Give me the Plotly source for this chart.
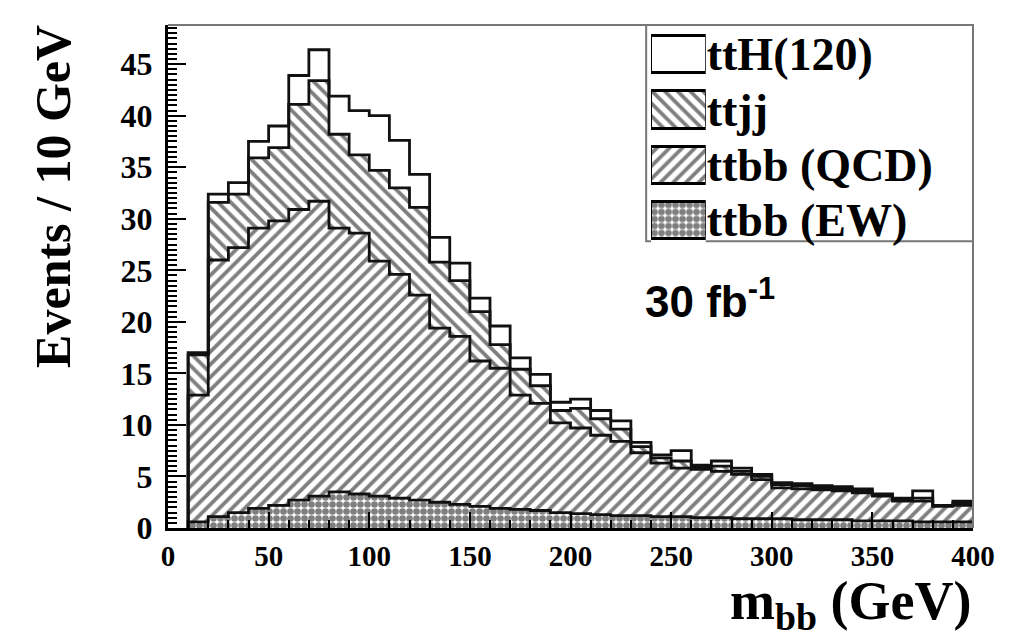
import numpy as np
import plotly.graph_objects as go

# bins of 10 GeV from 10 to 400 GeV
bin_edges = list(range(10, 410, 10))
bin_centers = [e + 5 for e in bin_edges[:-1]]

# events per bin for each component (stacked bottom -> top)
ttbb_ew = [0.6, 1.1, 1.5, 1.9, 2.2, 2.7, 3.1, 3.5, 3.3, 3.1,
           2.9, 2.7, 2.5, 2.3, 2.1, 1.9, 1.8, 1.7, 1.5, 1.4,
           1.3, 1.2, 1.2, 1.1, 1.1, 1.0, 1.0, 0.9, 0.9, 0.9,
           0.8, 0.8, 0.8, 0.7, 0.7, 0.7, 0.6, 0.6, 0.6]
ttbb_qcd = [12.3, 24.9, 25.7, 27.2, 27.6, 28.2, 28.6, 25.6, 25.3, 22.8,
            21.7, 19.9, 16.9, 16.3, 14.1, 13.6, 11.1, 10.4, 8.7, 8.3,
            7.7, 7.2, 6.1, 5.2, 4.7, 4.7, 4.5, 4.3, 3.8, 3.0,
            3.0, 2.9, 2.8, 2.7, 2.4, 1.9, 2.0, 1.5, 1.6]
ttjj = [3.9, 5.6, 5.2, 6.8, 7.1, 10.2, 11.7, 9.1, 7.6, 8.8,
        8.4, 8.5, 6.4, 5.4, 4.8, 2.3, 2.5, 1.7, 1.2, 1.9,
        1.6, 1.2, 0.6, 0.5, 0.7, 0.2, 0.5, 0.3, 0.3, 0.3,
        0.3, 0.2, 0.2, 0.2, 0.1, 0.2, 0.3, 0.1, 0.2]
tth = [0.2, 0.8, 1.1, 1.6, 2.1, 2.8, 3.0, 3.7, 4.3, 5.3,
       4.6, 3.2, 2.4, 1.7, 1.3, 1.8, 1.1, 1.1, 0.8, 0.9,
       0.8, 0.8, 0.4, 0.3, 1.0, 0.2, 0.5, 0.3, 0.2, 0.2,
       0.2, 0.2, 0.2, 0.2, 0.1, 0.1, 0.7, 0.0, 0.2]

legend_labels = ["ttH(120)", "ttjj", "ttbb (QCD)", "ttbb (EW)"]
x_ticks = [0, 50, 100, 150, 200, 250, 300, 350, 400]
y_ticks = [0, 5, 10, 15, 20, 25, 30, 35, 40, 45]

SERIF = "Liberation Serif"
# (values, pattern shape, pattern size, solidity)
layers = [
    (ttbb_ew, ".", 7, 0.7),
    (ttbb_qcd, "/", 9, 0.42),
    (ttjj, "\\", 9, 0.42),
    (tth, "", 8, 0.3),
]

fig = go.Figure()

# ── filled stacked bars (no outlines) ──────────────────
for vals, shape, size, sol in layers:
    fig.add_trace(go.Bar(
        x=bin_centers, y=vals, width=10,
        marker=dict(color="white", line=dict(width=0),
                    pattern=dict(shape=shape, fgcolor="black", bgcolor="white",
                                 size=size, solidity=sol, fillmode="overlay")),
        showlegend=False,
    ))

# ── step outlines of each cumulative level ──────────────
cum = np.zeros(len(bin_centers))
for vals, _, _, _ in layers:
    cum = cum + np.array(vals)
    ys = [0] + list(cum) + [cum[-1]]
    xs = [bin_edges[0]] + bin_edges
    fig.add_trace(go.Scatter(
        x=xs, y=ys, mode="lines", line=dict(color="#111", width=2.8, shape="hv"),
        showlegend=False, hoverinfo="skip",
    ))

# ── legend swatches on an extra small subplot ───────────
fig.add_trace(go.Bar(
    x=[1] * 4, y=legend_labels, orientation="h", width=0.68,
    xaxis="x2", yaxis="y2",
    marker=dict(color="white", line=dict(color="black", width=2.5),
                pattern=dict(shape=[l[1] for l in layers][::-1], fgcolor="black",
                             bgcolor="white", size=[l[2] for l in layers][::-1],
                             solidity=[l[3] for l in layers][::-1], fillmode="overlay")),
    showlegend=False,
))

fig.update_layout(
    width=1011, height=638,
    margin=dict(l=160, r=46, t=17, b=118),
    paper_bgcolor="white", plot_bgcolor="white",
    barmode="stack", bargap=0,
    font=dict(family=SERIF, color="black"),
    xaxis=dict(
        range=[0, 400], tickvals=x_ticks, ticks="inside", ticklen=16, tickwidth=2,
        tickcolor="black", showline=True, linewidth=3, linecolor="black",
        showgrid=False, zeroline=False, ticklabelstandoff=0,
        tickfont=dict(family=SERIF, size=29, weight="bold"),
        minor=dict(dtick=10, ticks="inside", ticklen=8, tickwidth=1.5, tickcolor="black"),
    ),
    yaxis=dict(
        range=[0, 48.8], tickvals=y_ticks, ticks="inside", ticklen=18, tickwidth=2,
        tickcolor="black", showline=True, linewidth=3, linecolor="black",
        showgrid=False, zeroline=False, ticklabelstandoff=6,
        tickfont=dict(family=SERIF, size=32, weight="bold"),
        minor=dict(dtick=0.5, ticks="inside", ticklen=9, tickwidth=1.5, tickcolor="black"),
    ),
    xaxis2=dict(domain=[0.600, 0.668], anchor="y2", range=[0, 1], visible=False),
    yaxis2=dict(
        domain=[0.557, 0.997], anchor="x2", side="right", type="category",
        categoryorder="array", categoryarray=legend_labels[::-1],
        range=[-0.5, 3.5], showline=False, showgrid=False, ticks="",
        ticklabelstandoff=0, tickfont=dict(family=SERIF, size=46, weight="bold"),
    ),
    shapes=[
        # grey top/right frame
        dict(type="line", xref="paper", yref="paper", x0=0, x1=1, y0=1, y1=1,
             line=dict(color="#777", width=2)),
        dict(type="line", xref="paper", yref="paper", x0=1, x1=1, y0=0, y1=1,
             line=dict(color="#777", width=2)),
        # legend box
        dict(type="rect", xref="paper", yref="paper", x0=0.594, x1=1, y0=0.57, y1=1,
             line=dict(color="#777", width=2), fillcolor="rgba(0,0,0,0)", layer="below"),
    ],
    annotations=[
        dict(text="Events / 10 GeV", xref="paper", yref="paper", x=-0.143, y=0.66,
             textangle=-90, showarrow=False, xanchor="center", yanchor="middle",
             font=dict(family=SERIF, size=50, weight="bold")),
        dict(text="m<sub>bb</sub> (GeV)", xref="paper", yref="paper", x=1.0, y=-0.152,
             showarrow=False, xanchor="right", yanchor="middle",
             font=dict(family=SERIF, size=54, weight="bold")),
        dict(text="30 fb<sup>-1</sup>", x=236, y=22.3, xref="x", yref="y",
             showarrow=False, xanchor="left", yanchor="middle",
             font=dict(family="Liberation Sans", size=44, weight="bold")),
    ],
)

fig.write_html("out.html")
